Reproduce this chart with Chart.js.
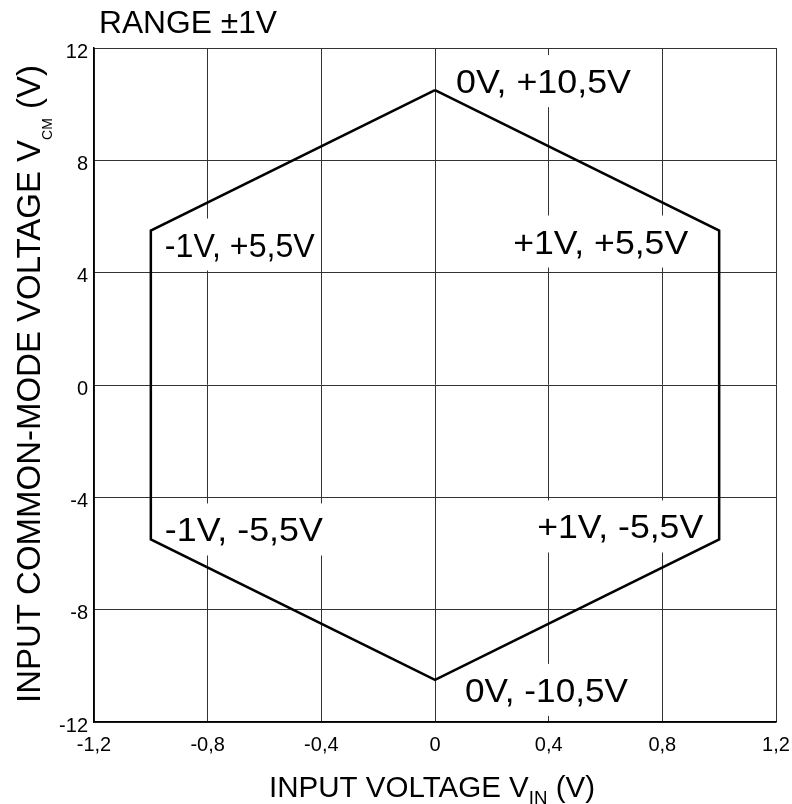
<!DOCTYPE html>
<html>
<head>
<meta charset="utf-8">
<script src="https://cdn.jsdelivr.net/npm/chart.js@4/dist/chart.umd.min.js"></script>
<style>
  html, body { margin: 0; padding: 0; background: #fff; }
  #wrap { width: 792px; height: 804px; }
</style>
</head>
<body>
<div id="wrap"><canvas id="chart" width="792" height="804"></canvas></div>
<script>
  // 六角形の頂点 (V_IN, V_CM)
  const vinValues = [0, 1, 1, 0, -1, -1, 0];
  const vcmValues = [10.5, 5.5, -5.5, -10.5, -5.5, 5.5, 10.5];
  const cornerLabels = ['0V, +10,5V', '+1V, +5,5V', '+1V, -5,5V', '0V, -10,5V', '-1V, -5,5V', '-1V, +5,5V'];
  const xTicks = [-1.2, -0.8, -0.4, 0, 0.4, 0.8, 1.2];
  const yTicks = [-12, -8, -4, 0, 4, 8, 12];

  const FONT = "'Liberation Sans', Arial, sans-serif";

  // ラベル位置（頂点からのずれ）
  const labelStyle = [
    { dx: 21, dy: 3, align: 'left', size: 34, w: 175 },
    { dx: -31, dy: 23, align: 'right', size: 34, w: 175 },
    { dx: -16, dy: -1, align: 'right', size: 34, w: 166 },
    { dx: 30, dy: 22, align: 'left', size: 34, w: 163 },
    { dx: 14, dy: 2, align: 'left', size: 34, w: 158 },
    { dx: 14, dy: 26, align: 'left', size: 34, w: 150 }
  ];

  function labelBox(ctx, chart, i) {
    const st = labelStyle[i];
    const px = chart.scales.x.getPixelForValue(vinValues[i]) + st.dx;
    const py = chart.scales.y.getPixelForValue(vcmValues[i]) + st.dy;
    ctx.font = st.size + 'px ' + FONT;
    const nat = ctx.measureText(cornerLabels[i]).width;
    const w = st.w || nat;
    const left = st.align === 'left' ? px : px - w;
    return { left: left, base: py, w: w, size: st.size };
  }

  // 部分ごとに描く（下付き文字用）
  function drawParts(ctx, parts, x, y, angle, target) {
    let nat = 0;
    parts.forEach(p => {
      ctx.font = p.s + 'px ' + FONT;
      nat += ctx.measureText(p.t).width;
    });
    const k = target ? target / nat : 1;
    ctx.save();
    ctx.translate(x, y);
    ctx.rotate(angle);
    ctx.scale(k, 1);
    ctx.fillStyle = '#000';
    ctx.textBaseline = 'alphabetic';
    ctx.textAlign = 'left';
    let cx = 0;
    parts.forEach(p => {
      ctx.font = p.s + 'px ' + FONT;
      ctx.fillText(p.t, cx, p.dy || 0);
      cx += ctx.measureText(p.t).width;
    });
    ctx.restore();
  }

  const textPlugin = {
    id: 'textPlugin',
    beforeDatasetsDraw(chart) {
      const ctx = chart.ctx;
      ctx.save();
      ctx.fillStyle = '#fff';
      for (let i = 0; i < cornerLabels.length; i++) {
        const b = labelBox(ctx, chart, i);
        const top = Math.max(chart.chartArea.top + 1, b.base - 38);
        ctx.fillRect(b.left - 6, top, b.w + 12, b.base + 14 - top);
      }
      ctx.restore();
    },
    afterDatasetsDraw(chart) {
      const ctx = chart.ctx;
      for (let i = 0; i < cornerLabels.length; i++) {
        const b = labelBox(ctx, chart, i);
        drawParts(ctx, [{ t: cornerLabels[i], s: b.size }], b.left, b.base, 0, b.w);
      }
    },
    afterDraw(chart) {
      const ctx = chart.ctx;
      drawParts(ctx, [{ t: 'RANGE ±1V', s: 31 }], 99, 33, 0, 178);
      drawParts(ctx, [
        { t: 'INPUT VOLTAGE V', s: 30 },
        { t: 'IN', s: 19, dy: 7 },
        { t: ' (V)', s: 30 }
      ], 269, 797, 0, 326);
      drawParts(ctx, [
        { t: 'INPUT COMMON-MODE VOLTAGE V', s: 33 },
        { t: 'CM', s: 14, dy: 12 },
        { t: ' (V)', s: 33 }
      ], 40, 703, -Math.PI / 2, 638);
    }
  };

  const points = vinValues.map((v, i) => ({ x: v, y: vcmValues[i] }));

  new Chart(document.getElementById('chart'), {
    type: 'scatter',
    data: {
      datasets: [{
        data: points,
        showLine: true,
        borderColor: '#000',
        borderWidth: 2.5,
        pointRadius: 0,
        tension: 0,
        fill: false
      }]
    },
    options: {
      responsive: false,
      animation: false,
      layout: { padding: { left: 0, top: 48, right: 16, bottom: 0 } },
      plugins: { legend: { display: false }, tooltip: { enabled: false } },
      scales: {
        x: {
          type: 'linear',
          min: -1.2,
          max: 1.2,
          afterBuildTicks(scale) { scale.ticks = xTicks.map(v => ({ value: v })); },
          afterFit(scale) {
            scale.height = 82;
            scale.paddingLeft = 0;
            scale.paddingRight = 0;
          },
          grid: { color: '#333', lineWidth: 1, drawTicks: false },
          border: { color: '#000', width: 1.5 },
          ticks: {
            color: '#000',
            padding: 11,
            font: { family: FONT, size: 20 },
            callback: v => (v === 0 ? '0' : v.toFixed(1).replace('.', ','))
          }
        },
        y: {
          type: 'linear',
          min: -12,
          max: 12,
          afterBuildTicks(scale) { scale.ticks = yTicks.map(v => ({ value: v })); },
          afterFit(scale) {
            scale.width = 94;
            scale.paddingTop = 0;
            scale.paddingBottom = 0;
          },
          grid: { color: '#333', lineWidth: 1, drawTicks: false },
          border: { color: '#000', width: 1.5 },
          ticks: {
            color: '#000',
            padding: 6,
            labelOffset: 4,
            font: { family: FONT, size: 20 },
            callback: v => String(v)
          }
        }
      }
    },
    plugins: [textPlugin]
  });
</script>
</body>
</html>
